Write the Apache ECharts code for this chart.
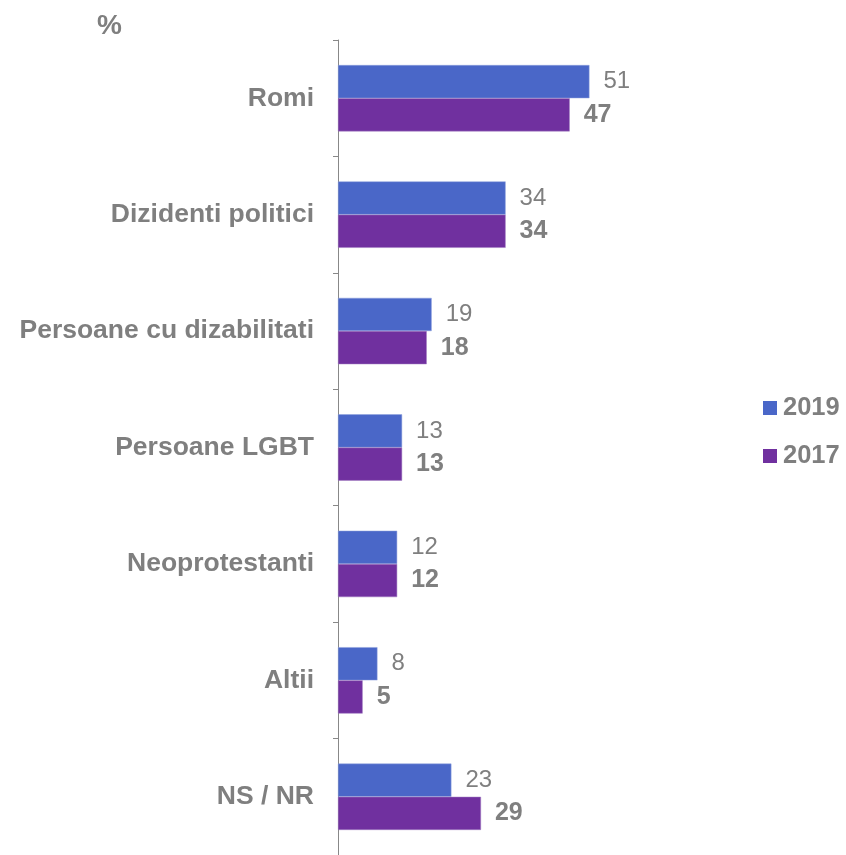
<!DOCTYPE html>
<html><head><meta charset="utf-8">
<script src="https://cdn.jsdelivr.net/npm/echarts@6/dist/echarts.min.js"></script>
<style>html,body{margin:0;padding:0;background:#fff}#c{width:846px;height:855px}</style>
</head><body><div id="c"></div>
<script>
const categories = ["Romi", "Dizidenti politici", "Persoane cu dizabilitati", "Persoane LGBT", "Neoprotestanti", "Altii", "NS / NR"];
const values2019 = [51, 34, 19, 13, 12, 8, 23];
const values2017 = [47, 34, 18, 13, 12, 5, 29];
const seriesNames = ["2019", "2017"];
const unitLabel = "%";

const chart = echarts.init(document.getElementById('c'), null, {renderer: 'canvas'});
const font = '"Liberation Sans", Arial, sans-serif';
const gray = '#7f7f7f';
chart.setOption({
  animation: false,
  textStyle: {fontFamily: font},
  title: {text: unitLabel, left: 92, top: 7, textStyle: {fontFamily: font, fontSize: 28, fontWeight: 'bold', color: gray}},
  legend: {
    orient: 'vertical', left: 763, top: 395, padding: 0, itemWidth: 14, itemHeight: 14, itemGap: 22,
    icon: 'rect', data: seriesNames, itemStyle: {borderWidth: 0},
    textStyle: {fontFamily: font, fontSize: 25.5, fontWeight: 'bold', color: gray, padding: [0, 0, 0, 1]}
  },
  grid: {left: 338, top: 40, width: 493, height: 817},
  xAxis: {type: 'value', min: 0, max: 100, show: false},
  yAxis: {
    type: 'category', data: categories, inverse: true,
    axisLine: {show: true, lineStyle: {color: '#888888', width: 1}},
    axisTick: {show: true, inside: false, length: 5, lineStyle: {color: '#888888', width: 1}},
    axisLabel: {fontFamily: font, fontSize: 26.5, fontWeight: 'bold', color: gray, margin: 24}
  },
  series: [
    {name: seriesNames[0], type: 'bar', data: values2019, barGap: '0%', barCategoryGap: '43%',
     itemStyle: {color: '#4a67c8', borderColor: '#8fa0dc', borderWidth: 0.5},
     label: {show: true, position: 'right', distance: 14, fontFamily: font, fontSize: 24, color: gray}},
    {name: seriesNames[1], type: 'bar', data: values2017, barGap: '0%', barCategoryGap: '43%',
     itemStyle: {color: '#70309f', borderColor: '#a07cc0', borderWidth: 0.5},
     label: {show: true, position: 'right', distance: 14, fontFamily: font, fontSize: 25, fontWeight: 'bold', color: gray}}
  ]
});
</script></body></html>
